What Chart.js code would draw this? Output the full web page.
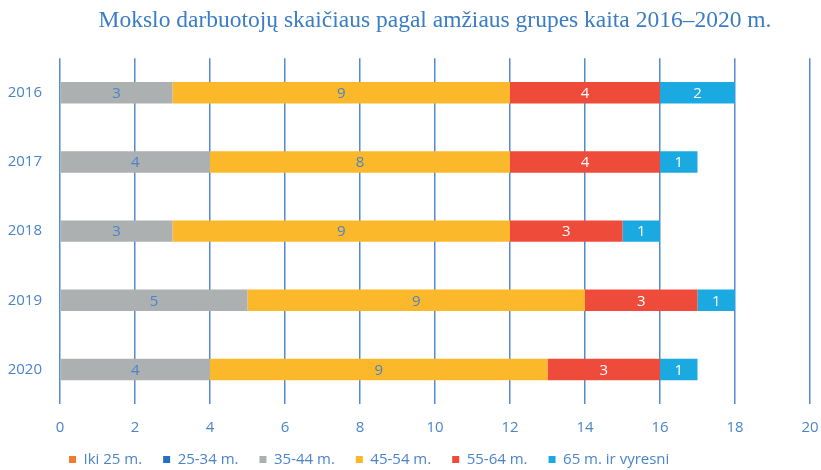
<!DOCTYPE html>
<html>
<head>
<meta charset="utf-8">
<script src="https://cdn.jsdelivr.net/npm/chart.js@4"></script>
<style>
  html, body { margin: 0; padding: 0; background: #fff; }
  #wrap { width: 821px; height: 470px; }
</style>
</head>
<body>
<div id="wrap"><canvas id="ageChart"></canvas></div>
<script>
var years = ['2016', '2017', '2018', '2019', '2020'];
var groups = ['Iki 25 m.', '25-34 m.', '35-44 m.', '45-54 m.', '55-64 m.', '65 m. ir vyresni'];

var under25 = [0, 0, 0, 0, 0];
var age25to34 = [0, 0, 0, 0, 0];
var age35to44 = [3, 4, 3, 5, 4];
var age45to54 = [9, 8, 9, 9, 9];
var age55to64 = [4, 4, 3, 3, 3];
var age65plus = [2, 1, 1, 1, 1];

var xTicks = [0, 2, 4, 6, 8, 10, 12, 14, 16, 18, 20];

var blueText = '#4a84c9';
var colors = ['#ed7d31', '#2371c0', '#adb0b1', '#fbb82b', '#ee4b3b', '#1aa9e0'];
var labelColors = [blueText, blueText, blueText, blueText, '#ffffff', '#ffffff'];
var series = [under25, age25to34, age35to44, age45to54, age55to64, age65plus];

// values written in the middle of each segment
var segmentLabels = {
    id: 'segmentLabels',
    afterDatasetsDraw: function (chart) {
        var ctx = chart.ctx;
        ctx.save();
        ctx.font = '15px "Open Sans"';
        ctx.textAlign = 'center';
        ctx.textBaseline = 'middle';
        chart.data.datasets.forEach(function (ds, i) {
            var meta = chart.getDatasetMeta(i);
            meta.data.forEach(function (bar, j) {
                var v = ds.data[j];
                if (!v) return;
                ctx.fillStyle = labelColors[i];
                ctx.fillText(v, (bar.x + bar.base) / 2, bar.y + 1);
            });
        });
        ctx.restore();
    }
};

// legend row goes right under the axis labels, a bit left of the plot
var legendPlace = {
    id: 'legendPlace',
    afterLayout: function (chart) {
        var lg = chart.legend;
        var w = lg.right - lg.left, h = lg.bottom - lg.top;
        lg.left = chart.chartArea.left - 12;
        lg.right = lg.left + w;
        lg.top = chart.chartArea.bottom + 27;
        lg.bottom = lg.top + h;
    }
};

var ctx = document.getElementById('ageChart').getContext('2d');

var myChart = new Chart(ctx, {
    type: 'bar',
    data: {
        labels: years,
        datasets: groups.map(function (g, i) {
            return {
                label: g,
                data: series[i],
                backgroundColor: colors[i],
                borderWidth: 0,
                categoryPercentage: 1,
                barPercentage: 0.31
            };
        })
    },
    options: {
        indexAxis: 'y',
        responsive: true,
        maintainAspectRatio: false,
        animation: false,
        layout: {
            padding: { left: 8, right: 4, top: 4, bottom: -28 }
        },
        scales: {
            x: {
                stacked: true,
                min: 0,
                max: 20,
                afterBuildTicks: function (axis) {
                    axis.ticks = xTicks.map(function (v) { return { value: v }; });
                },
                afterFit: function (axis) {
                    axis.paddingLeft = 4;
                    axis.paddingRight = 11;
                },
                grid: { color: '#5589d4', lineWidth: 1.5, drawTicks: false },
                border: { display: false },
                ticks: { color: blueText, font: { family: 'Open Sans', size: 15 }, padding: 15 }
            },
            y: {
                stacked: true,
                afterFit: function (axis) {
                    axis.width = 52;
                },
                grid: { display: false, drawTicks: false },
                border: { display: false },
                ticks: { color: blueText, font: { family: 'Open Sans', size: 15 }, padding: 18 }
            }
        },
        plugins: {
            title: {
                display: true,
                text: 'Mokslo darbuotojų skaičiaus pagal amžiaus grupes kaita 2016–2020 m.',
                color: '#3b7dc4',
                fullSize: false,
                font: { family: 'Liberation Serif', size: 23.5, weight: 'normal' },
                padding: { top: 3, bottom: 23 }
            },
            legend: {
                position: 'bottom',
                align: 'start',
                fullSize: false,
                labels: {
                    color: blueText,
                    boxWidth: 7,
                    boxHeight: 7,
                    padding: 21,
                    font: { family: 'Open Sans', size: 15 }
                }
            },
            tooltip: { enabled: false }
        }
    },
    plugins: [segmentLabels, legendPlace]
});
</script>
</body>
</html>
